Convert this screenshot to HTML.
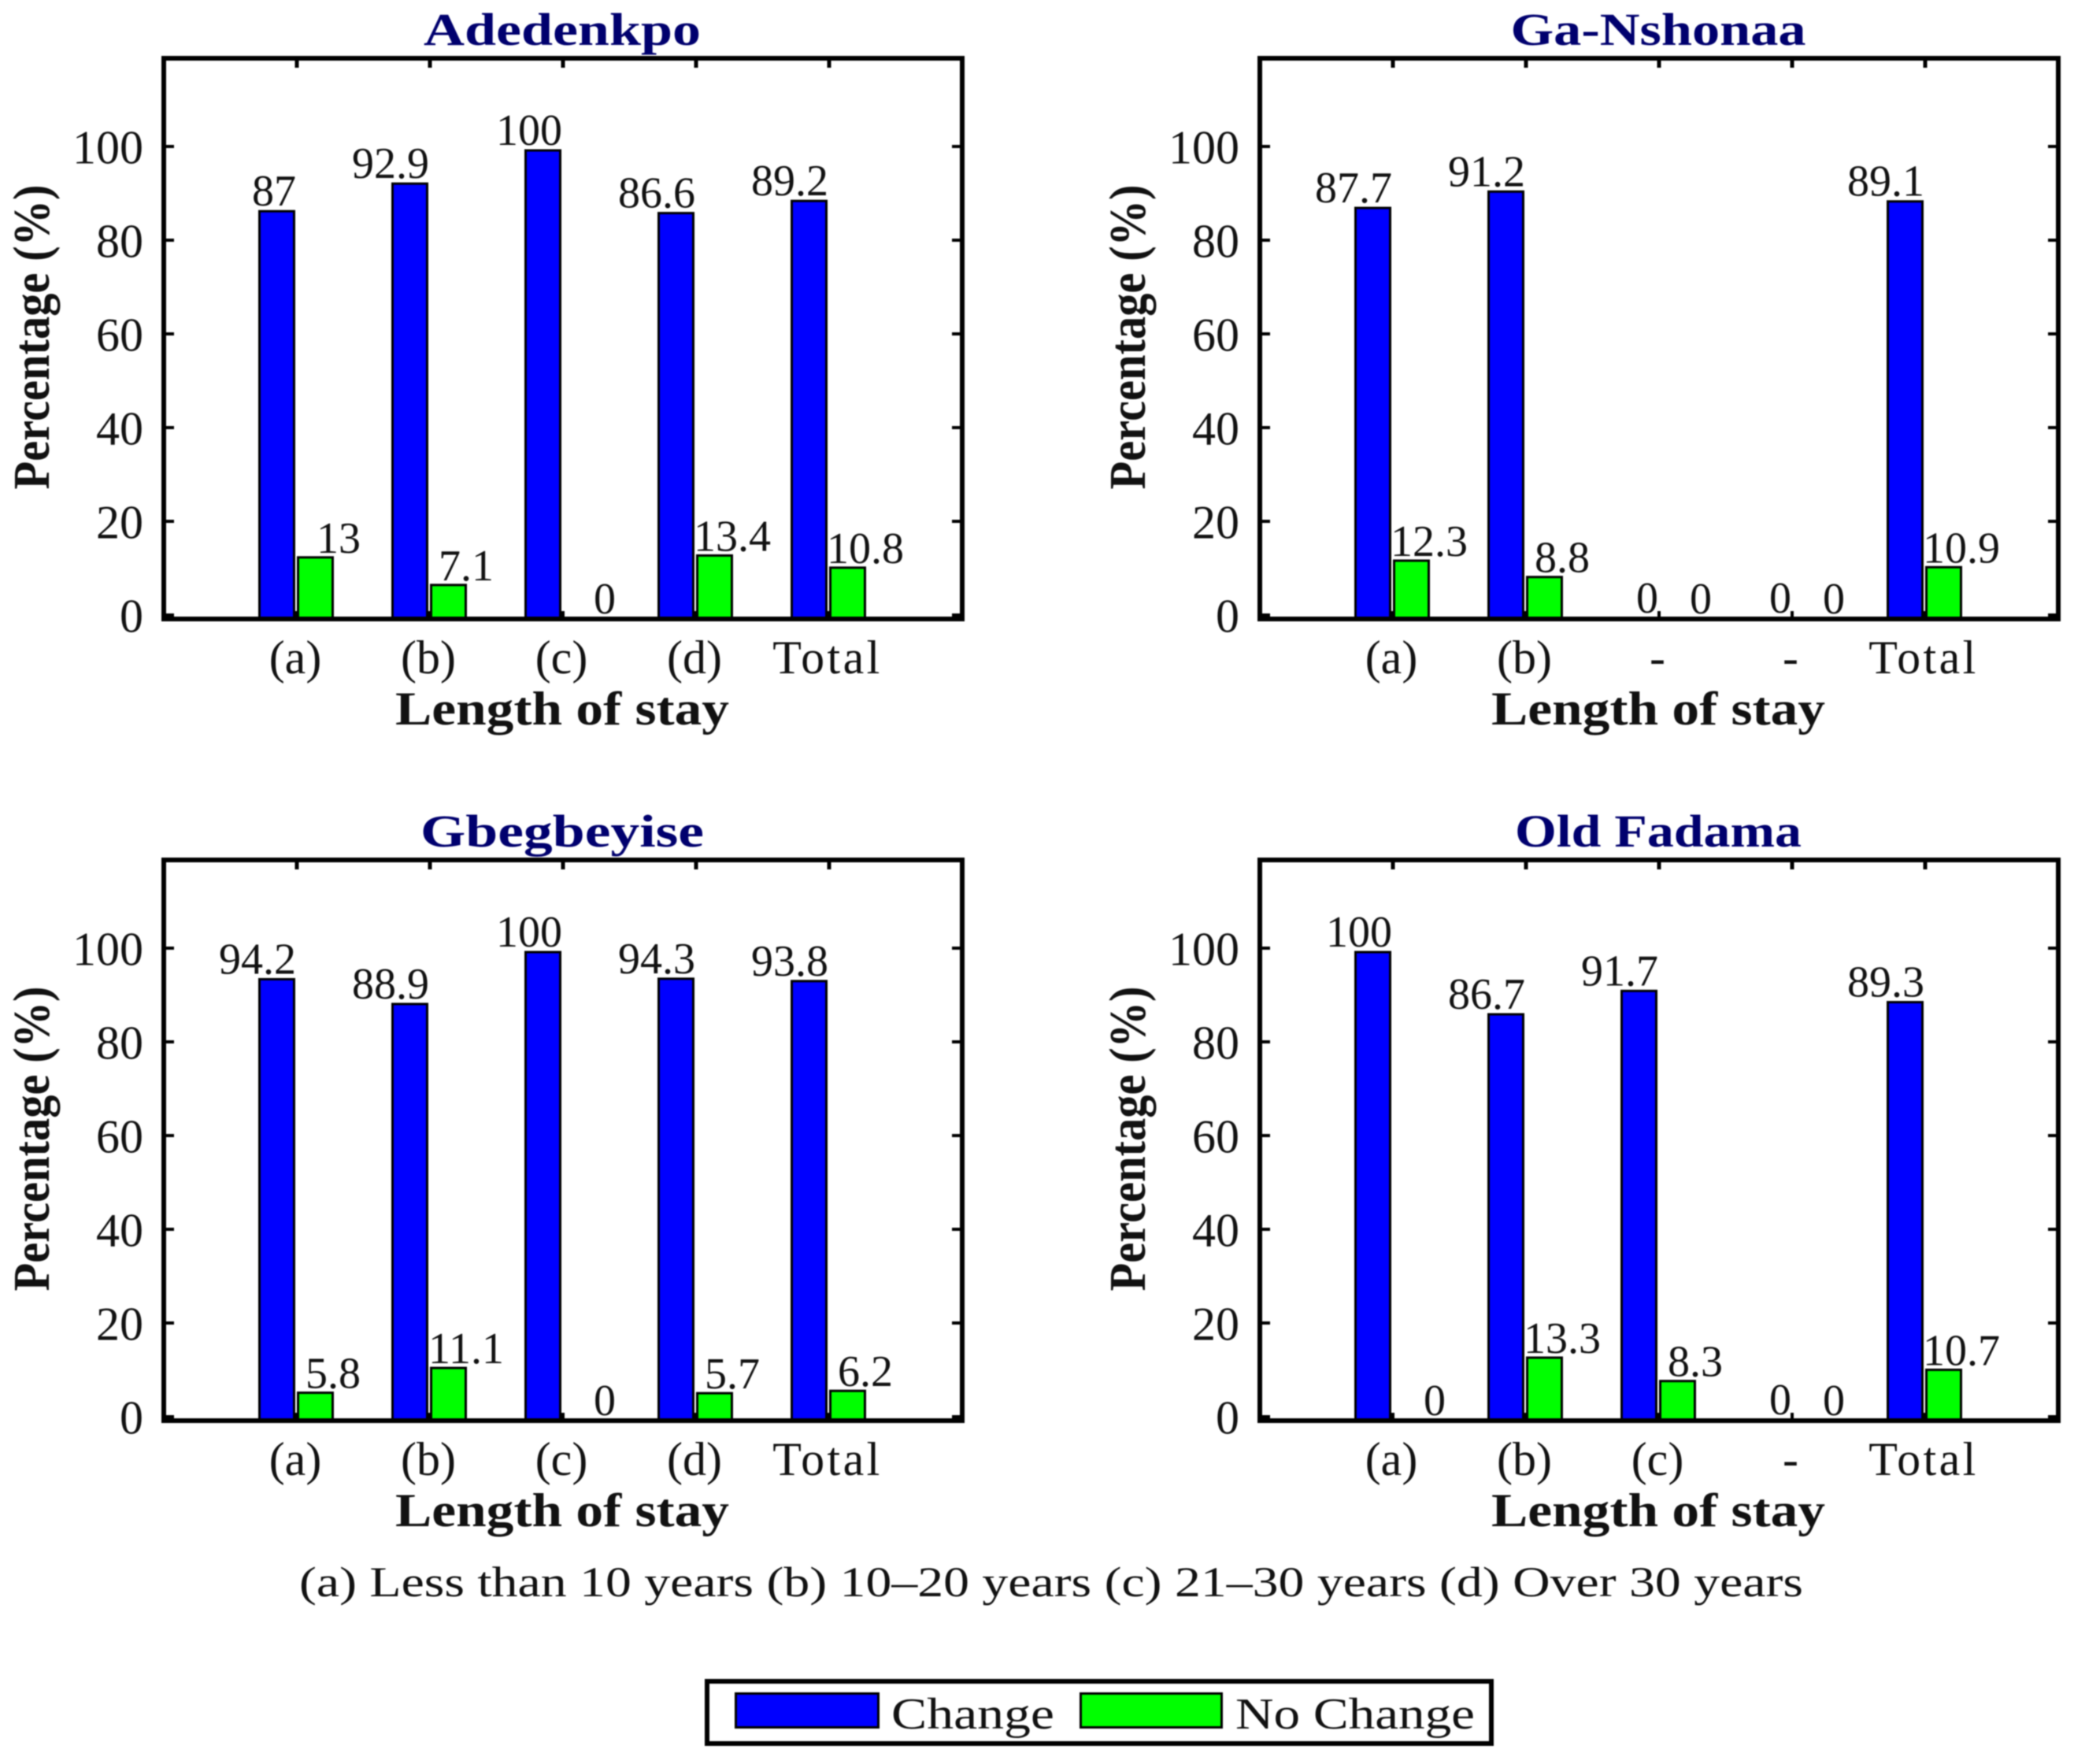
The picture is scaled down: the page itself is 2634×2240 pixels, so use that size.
<!DOCTYPE html>
<html lang="en">
<head>
<meta charset="utf-8">
<title>Perception of change by length of stay</title>
<style>
html,body{margin:0;padding:0;background:#fff;}
svg{display:block;filter:blur(0.7px);}
text{font-family:"Liberation Serif",serif;fill:#111;}
</style>
</head>
<body>
<svg id="chart" xmlns="http://www.w3.org/2000/svg" width="2634" height="2240" viewBox="0 0 2634 2240">
  <text x="1335" y="2027" text-anchor="middle" font-size="54" textLength="1910" lengthAdjust="spacingAndGlyphs">(a) Less than 10 years (b) 10–20 years (c) 21–30 years (d) Over 30 years</text>
  <g>
    <rect x="898" y="2135" width="996" height="79" fill="#fff" stroke="#000" stroke-width="6"/>
    <rect x="934.5" y="2150.5" width="181" height="43" fill="#0000ff" stroke="#000" stroke-width="3"/>
    <text x="1132" y="2195" font-size="56" textLength="207" lengthAdjust="spacingAndGlyphs">Change</text>
    <rect x="1372.5" y="2150.5" width="179" height="43" fill="#00ff00" stroke="#000" stroke-width="3"/>
    <text x="1569" y="2195" font-size="56" textLength="304" lengthAdjust="spacingAndGlyphs">No Change</text>
  </g>
</svg>
<script>
const yTicks = [0, 20, 40, 60, 80, 100];
const panelTitles = ["Adedenkpo", "Ga-Nshonaa", "Gbegbeyise", "Old Fadama"];
const titleWidths = [352, 375, 360, 364];

const adedenkpoCategories = ["(a)", "(b)", "(c)", "(d)", "Total"];
const adedenkpoChange = [87, 92.9, 100, 86.6, 89.2];
const adedenkpoNoChange = [13, 7.1, 0, 13.4, 10.8];

const gaNshonaaCategories = ["(a)", "(b)", "-", "-", "Total"];
const gaNshonaaChange = [87.7, 91.2, 0, 0, 89.1];
const gaNshonaaNoChange = [12.3, 8.8, 0, 0, 10.9];

const gbegbeyiseCategories = ["(a)", "(b)", "(c)", "(d)", "Total"];
const gbegbeyiseChange = [94.2, 88.9, 100, 94.3, 93.8];
const gbegbeyiseNoChange = [5.8, 11.1, 0, 5.7, 6.2];

const oldFadamaCategories = ["(a)", "(b)", "(c)", "-", "Total"];
const oldFadamaChange = [100, 86.7, 91.7, 0, 89.3];
const oldFadamaNoChange = [0, 13.3, 8.3, 0, 10.7];

const panelCategories = [adedenkpoCategories, gaNshonaaCategories, gbegbeyiseCategories, oldFadamaCategories];
const panelChange = [adedenkpoChange, gaNshonaaChange, gbegbeyiseChange, oldFadamaChange];
const panelNoChange = [adedenkpoNoChange, gaNshonaaNoChange, gbegbeyiseNoChange, oldFadamaNoChange];

const NS = "http://www.w3.org/2000/svg";
const svg = document.getElementById("chart");

function slug(s) {
  return s.toLowerCase().replace(/[^a-z0-9]+/g, "-").replace(/^-|-$/g, "");
}
function make(parent, tag, name, props, content) {
  const el = document.createElementNS(NS, tag);
  
  
  for (const k in props) el.setAttribute(k, props[k]);
  if (content !== undefined) el.textContent = content;
  parent.appendChild(el);
  return el;
}

function drawPanel(i) {
  const ox = (i % 2) * 1392;
  const oy = Math.floor(i / 2) * 1018;
  const left = 208 + ox, right = 1222 + ox, top = 74 + oy, bottom = 786 + oy;
  const slugTitle = slug(panelTitles[i]);
  const g = make(svg, "g", "panel-" + slugTitle, {});

  const xCenter = idx => left + 169 * (idx + 1);
  const yTick = v => bottom - 5 - 5.95 * v;
  const yBar = v => bottom - 1 - 5.94 * v;

  make(g, "text", "panel-title-" + slugTitle, {
    x: 714 + ox, y: 57 + oy, "text-anchor": "middle", "font-size": 58,
    "font-weight": "bold", style: "fill:#00006e", textLength: titleWidths[i], lengthAdjust: "spacingAndGlyphs"
  }, panelTitles[i]);

  make(g, "text", "y-axis-title", {
    transform: "translate(" + (62 + ox) + " " + (428 + oy) + ") rotate(-90)", "text-anchor": "middle",
    "font-size": 66, "font-weight": "bold", textLength: 387, lengthAdjust: "spacingAndGlyphs"
  }, "Percentage (%)");

  make(g, "text", "x-axis-title", {
    x: 714 + ox, y: 920 + oy, "text-anchor": "middle", "font-size": 60, "font-weight": "bold",
    textLength: 424, lengthAdjust: "spacingAndGlyphs"
  }, "Length of stay");

  yTicks.forEach(t => {
    const y = yTick(t);
    make(g, "line", "y-tick-left-" + t, { x1: left, x2: left + 13, y1: y, y2: y, stroke: "#000", "stroke-width": 4 });
    make(g, "line", "y-tick-right-" + t, { x1: right, x2: right - 13, y1: y, y2: y, stroke: "#000", "stroke-width": 4 });
    make(g, "text", "y-tick-label-" + t, { x: left - 26, y: y + 21.5, "text-anchor": "end", "font-size": 60 }, String(t));
  });

  panelCategories[i].forEach((cat, idx) => {
    const c = xCenter(idx);
    make(g, "line", "x-tick-top-" + idx, { x1: c, x2: c, y1: top, y2: top + 12, stroke: "#000", "stroke-width": 5 });
    make(g, "line", "x-tick-bottom-" + idx, { x1: c, x2: c, y1: bottom, y2: bottom - 10, stroke: "#000", "stroke-width": 4 });
    make(g, "text", "x-tick-label-" + idx, {
      x: c - 2, y: 855 + oy, "text-anchor": "middle", "font-size": 60,
      "letter-spacing": cat.length > 3 ? 3.4 : 0
    }, cat);

    const a = panelChange[i][idx], b = panelNoChange[i][idx];
    make(g, "rect", "bar-change-" + idx, {
      x: c - 47.5, y: yBar(a), width: 44, height: Math.max(0, yBar(0) - yBar(a)),
      fill: "#0000ff", stroke: a > 0 ? "#000" : "none", "stroke-width": 3
    });
    make(g, "rect", "bar-no-change-" + idx, {
      x: c + 1.5, y: yBar(b), width: 44, height: Math.max(0, yBar(0) - yBar(b)),
      fill: "#00ff00", stroke: b > 0 ? "#000" : "none", "stroke-width": 3
    });
    make(g, "text", "value-change-" + idx, { x: c - 1, y: yBar(a) - 7, "text-anchor": "end", "font-size": 56 }, String(a));
    const labelB = String(b);
    make(g, "text", "value-no-change-" + idx, {
      x: c + (labelB.length <= 2 ? 53 : 46), y: yBar(b) - 6, "text-anchor": "middle", "font-size": 56
    }, labelB);
  });

  make(g, "rect", "plot-frame", {
    x: left, y: top, width: right - left, height: bottom - top, fill: "none", stroke: "#000", "stroke-width": 6
  });
}

panelTitles.forEach((_, i) => drawPanel(i));
</script>
</body>
</html>
